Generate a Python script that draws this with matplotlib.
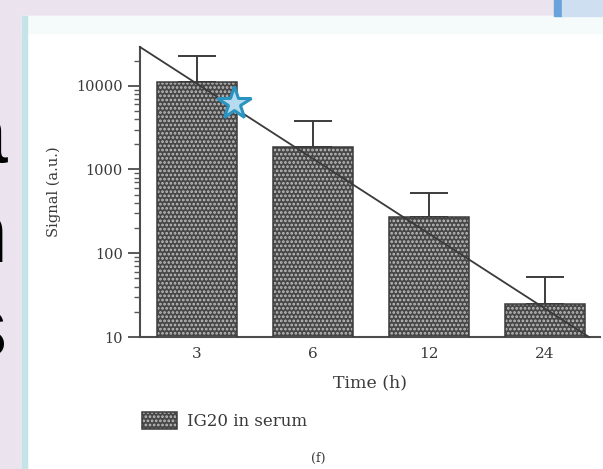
import numpy as np
import matplotlib
matplotlib.use("Agg")
import matplotlib.pyplot as plt
from matplotlib.patches import Rectangle
from matplotlib.ticker import LogLocator, NullFormatter
from matplotlib.legend_handler import HandlerTuple

# data
times = ["3", "6", "12", "24"]
signal = [11200, 1870, 272, 25]
signal_top = [22900, 3820, 526, 52]          # top of the error bars
fit_x = [-0.49, 3.38]                          # straight decay line (log scale)
fit_y = [29000, 10]
star_x = [0.32]
star_y = [6200]
ytick_vals = [10, 100, 1000, 10000]
ytick_labels = ["10", "100", "1000", "10000"]

plt.rcParams["hatch.color"] = "#c0c0c0"
plt.rcParams["hatch.linewidth"] = 1.3
serif = "DejaVu Serif"
txt = "#3a3a3a"

fig = plt.figure(figsize=(6.03, 4.69), dpi=100)
fig.patch.set_facecolor("#ebe4ef")
W, H = 603.0, 469.0

# slide background pieces around the chart
fig.add_artist(Rectangle((22 / W, 0), 1, 1 - 16 / H, transform=fig.transFigure, color="white", zorder=0))
fig.add_artist(Rectangle((22 / W, 1 - 33 / H), 1, 17 / H, transform=fig.transFigure, color="#f5fbfb", zorder=0))
fig.add_artist(Rectangle((22 / W, 0), 5 / W, 1 - 16 / H, transform=fig.transFigure, color="#c6e3ea", zorder=0))
fig.add_artist(Rectangle((554 / W, 1 - 16 / H), 8 / W, 16 / H, transform=fig.transFigure, color="#6aa3db", zorder=0))
fig.add_artist(Rectangle((562 / W, 1 - 16 / H), 41 / W, 16 / H, transform=fig.transFigure, color="#cddff1", zorder=0))

# cut-off slide letters on the left edge (only their right edge shows)
for ch, base in [("a", 162), ("n", 262), ("s", 356)]:
    fig.text(7 / W, 1 - base / H, ch, fontsize=62, family="Liberation Sans",
             ha="right", va="baseline", color="black")

ax = fig.add_axes([140 / W, 132 / H, 460 / W, 290 / H])
ax.set_facecolor("none")
ax.set_yscale("log")
x = np.arange(len(times))

bars = ax.bar(x, signal, width=0.69, color="#474747", hatch="....", zorder=2)
outline = ax.bar(x, signal, width=0.69, fill=False, edgecolor="#3a3a3a", linewidth=1.1, zorder=3)
err = np.array(signal_top) - np.array(signal)
ax.errorbar(x, signal, yerr=[np.zeros(len(x)), err], fmt="none", ecolor="#3c3c3c",
            elinewidth=1.4, capsize=13.5, capthick=1.4, zorder=1)

ax.plot(fit_x, fit_y, color="#3a3a3a", lw=1.3, zorder=4, clip_on=False)
ax.plot(star_x, star_y, marker="*", ms=25, mfc="#b6dbee", mec="#2b93c0", mew=2.2,
        linestyle="none", zorder=5)

ax.set_xlim(-0.49, 3.475)
ax.set_ylim(10, 29000)

for s in ["top", "right"]:
    ax.spines[s].set_visible(False)
for s in ["left", "bottom"]:
    ax.spines[s].set_color("#4d4d4d")
    ax.spines[s].set_linewidth(1.5)

ax.set_xticks(x, times)
ax.tick_params(axis="x", length=0, pad=7, labelsize=11, labelcolor=txt)
ax.set_yticks(ytick_vals, ytick_labels)
ax.yaxis.set_minor_locator(LogLocator(base=10, subs=np.arange(2, 10)))
ax.yaxis.set_minor_formatter(NullFormatter())
ax.tick_params(axis="y", which="major", length=8.5, width=1.3, color="#4d4d4d",
               pad=4, labelsize=10.5, labelcolor=txt)
ax.tick_params(axis="y", which="minor", length=4, width=1.0, color="#5a5a5a")
for lab in ax.get_xticklabels() + ax.get_yticklabels():
    lab.set_family(serif)

ax.set_xlabel("Time (h)", fontsize=12.5, family=serif, color=txt)
ax.xaxis.set_label_coords(0.5, -0.128)
ax.set_ylabel("Signal (a.u.)", fontsize=10.5, family=serif, color=txt)
ax.yaxis.set_label_coords(-0.172, 0.5)

ax.legend([(bars[0], outline[0])], ["IG20 in serum"], handler_map={tuple: HandlerTuple(ndivide=1)},
          loc="center left", bbox_to_anchor=(142 / W, 1 - 421 / H), bbox_transform=fig.transFigure,
          frameon=False, borderpad=0, borderaxespad=0, handlelength=2.1, handleheight=1.2,
          handletextpad=0.6, prop={"family": serif, "size": 12}, labelcolor=txt)

fig.text(318 / W, 1 - 458 / H, "(f)", fontsize=9, family=serif, color=txt, ha="center", va="center")

fig.savefig("out.png", dpi=100, facecolor=fig.get_facecolor())
